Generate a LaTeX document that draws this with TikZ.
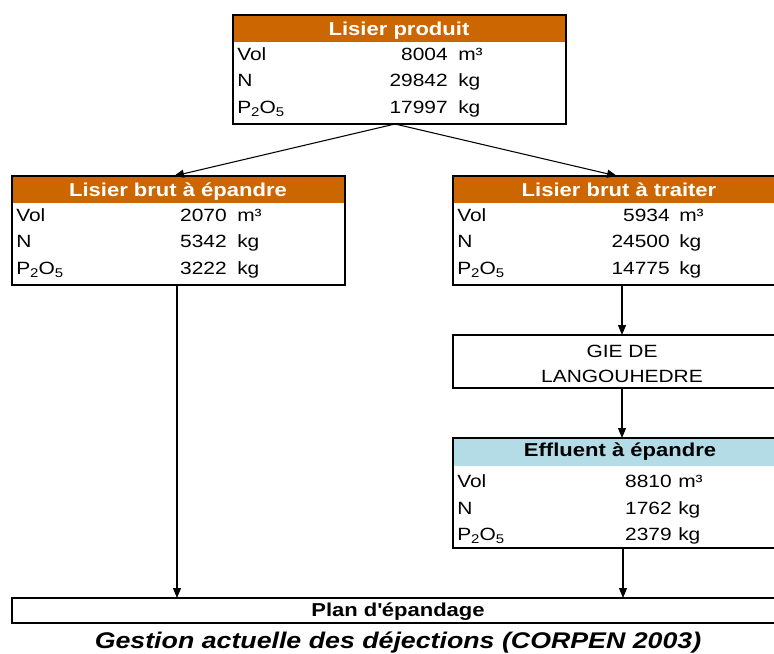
\documentclass[tikz,border=0pt]{standalone}
\usepackage{fontspec}
\setmainfont[FakeStretch=1.18]{Liberation Sans}
\usetikzlibrary{arrows.meta,fit}
\definecolor{headorange}{HTML}{CC6600}
\definecolor{headblue}{HTML}{B4DCE6}
\newcommand{\lowsub}[1]{\raisebox{-0.35ex}{\fontsize{9.5pt}{10pt}\selectfont #1}}
\newcommand{\ptwoofive}{P\lowsub{2}O\lowsub{5}}
\begin{document}
\begin{tikzpicture}[x=0.75pt,y=-0.75pt,
  box/.style={draw=black,line width=1.5pt,inner sep=0pt,outer sep=0pt},
  headfill/.style={inner sep=0pt,outer sep=0pt},
  headtxt/.style={anchor=base,inner sep=0pt,text=white,font=\fontsize{14pt}{16pt}\selectfont\bfseries},
  lab/.style={anchor=base west,inner sep=0pt,font=\fontsize{13.3pt}{16pt}\selectfont},
  val/.style={anchor=base east,inner sep=0pt,font=\fontsize{13.3pt}{16pt}\selectfont},
  unit/.style={anchor=base west,inner sep=0pt,font=\fontsize{13.3pt}{16pt}\selectfont},
  flow/.style={draw=black,line width=0.8pt,-{Triangle[length=7.5pt,width=6pt]}}]
\useasboundingbox (0,0) rectangle (774,653);
\fill[white] (0,0) rectangle (774,653);

% header fills
\node[headfill,fill=headorange,fit={(233,15)(566,42)}] (h1) {};
\node[headfill,fill=headorange,fit={(12,176)(345,203)}] (h2) {};
\node[headfill,fill=headorange,fit={(453,176)(785,203)}] (h3) {};
\node[headfill,fill=headblue,fit={(453,438)(785,466)}] (h4) {};

% boxes
\node[box,fit={(233,15)(566,124)}] (top) {};
\node[box,fit={(12,176)(345,285)}] (left) {};
\node[box,fit={(453,176)(785,285)}] (right) {};
\node[box,fit={(453,335)(785,388)}] (gie) {};
\node[box,fit={(453,438)(785,548)}] (eff) {};
\node[box,fit={(12,598)(785,623)}] (plan) {};

% top box
\node[headtxt] (t0) at (399,35) {Lisier produit};
\node[lab] (t1) at (237,60) {Vol};
\node[val] (t2) at (448,60) {8004};
\node[unit] (t3) at (458,60) {m³};
\node[lab] (t4) at (237,86) {N};
\node[val] (t5) at (448,86) {29842};
\node[unit] (t6) at (458,86) {kg};
\node[lab] (t7) at (237,113) {\ptwoofive};
\node[val] (t8) at (448,113) {17997};
\node[unit] (t9) at (458,113) {kg};

% left box
\node[headtxt] (l0) at (178,196) {Lisier brut à épandre};
\node[lab] (l1) at (16,221) {Vol};
\node[val] (l2) at (227,221) {2070};
\node[unit] (l3) at (237,221) {m³};
\node[lab] (l4) at (16,247) {N};
\node[val] (l5) at (227,247) {5342};
\node[unit] (l6) at (237,247) {kg};
\node[lab] (l7) at (16,274) {\ptwoofive};
\node[val] (l8) at (227,274) {3222};
\node[unit] (l9) at (237,274) {kg};

% right box
\node[headtxt] (r0) at (619,196) {Lisier brut à traiter};
\node[lab] (r1) at (457,221) {Vol};
\node[val] (r2) at (670,221) {5934};
\node[unit] (r3) at (679,221) {m³};
\node[lab] (r4) at (457,247) {N};
\node[val] (r5) at (670,247) {24500};
\node[unit] (r6) at (679,247) {kg};
\node[lab] (r7) at (457,274) {\ptwoofive};
\node[val] (r8) at (670,274) {14775};
\node[unit] (r9) at (679,274) {kg};

% GIE
\node[lab,anchor=base] (g1) at (622,357) {GIE DE};
\node[lab,anchor=base] (g2) at (622,382) {LANGOUHEDRE};

% effluent
\node[headtxt,text=black] (e0) at (620,456) {Effluent à épandre};
\node[lab] (e1) at (457,487) {Vol};
\node[val] (e2) at (672,487) {8810};
\node[unit] (e3) at (678,487) {m³};
\node[lab] (e4) at (457,514) {N};
\node[val] (e5) at (672,514) {1762};
\node[unit] (e6) at (678,514) {kg};
\node[lab] (e7) at (457,540) {\ptwoofive};
\node[val] (e8) at (672,540) {2379};
\node[unit] (e9) at (678,540) {kg};

% plan
\node[headtxt,text=black] (p0) at (398,616) {Plan d\textquotesingle épandage};

% caption
\node[anchor=base,inner sep=0pt,font=\fontsize{17pt}{20pt}\selectfont\bfseries\itshape] (cap) at (398,648) {Gestion actuelle des déjections (CORPEN 2003)};

% connectors
\coordinate (split) at (395,124);
\coordinate (ltip) at (174,176);
\coordinate (rtip) at (617,176);
\draw[flow] (split) -- (ltip);
\draw[flow] (split) -- (rtip);
\draw[flow] (left.south -| 177,0) -- (plan.north -| 177,0);
\draw[flow] (right.south -| 622,0) -- (gie.north -| 622,0);
\draw[flow] (gie.south -| 622,0) -- (eff.north -| 622,0);
\draw[flow] (eff.south -| 623,0) -- (plan.north -| 623,0);
\end{tikzpicture}
\end{document}
